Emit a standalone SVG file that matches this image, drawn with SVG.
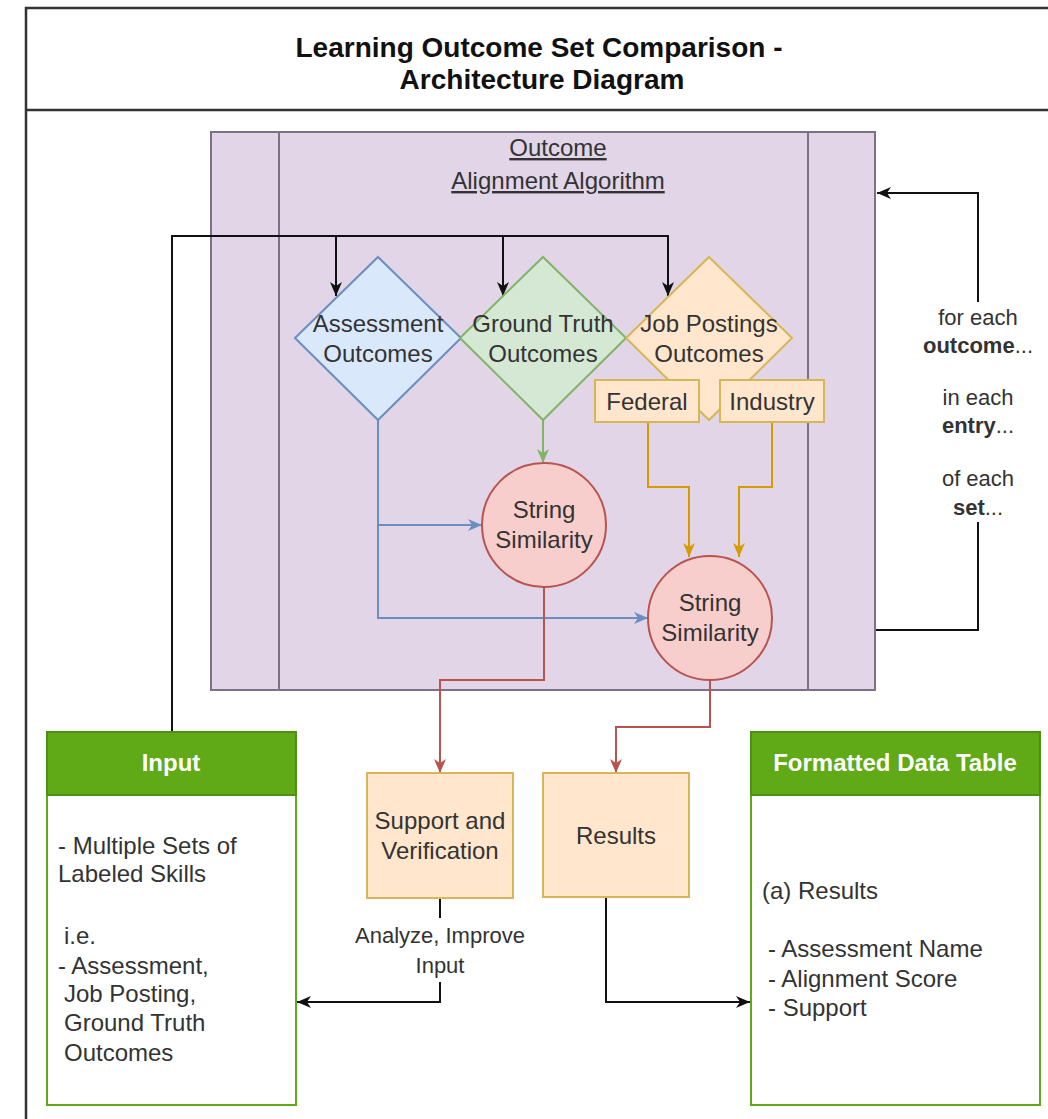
<svg xmlns="http://www.w3.org/2000/svg" width="1048" height="1119" viewBox="0 0 1048 1119">
<defs>
<style>
text{font-family:"Liberation Sans",Arial,sans-serif;fill:#333}
.t24{font-size:24px}
.t22{font-size:22px}
.mid{text-anchor:middle}
.hdr{font-size:24px;font-weight:bold;fill:#fff;text-anchor:middle}
.title{font-size:28px;font-weight:bold;fill:#111;text-anchor:middle}
.c{fill:none;stroke-width:2}
</style>
<marker id="aK" viewBox="0 0 14 12" markerWidth="14" markerHeight="12" refX="14" refY="6" orient="auto" markerUnits="userSpaceOnUse"><path d="M0,0 L14,6 L0,12 L4,6 Z" fill="#111"/></marker>
<marker id="aB" viewBox="0 0 14 12" markerWidth="14" markerHeight="12" refX="14" refY="6" orient="auto" markerUnits="userSpaceOnUse"><path d="M0,0 L14,6 L0,12 L4,6 Z" fill="#6c8ebf"/></marker>
<marker id="aG" viewBox="0 0 14 12" markerWidth="14" markerHeight="12" refX="14" refY="6" orient="auto" markerUnits="userSpaceOnUse"><path d="M0,0 L14,6 L0,12 L4,6 Z" fill="#82b366"/></marker>
<marker id="aO" viewBox="0 0 14 12" markerWidth="14" markerHeight="12" refX="14" refY="6" orient="auto" markerUnits="userSpaceOnUse"><path d="M0,0 L14,6 L0,12 L4,6 Z" fill="#d79b00"/></marker>
<marker id="aR" viewBox="0 0 14 12" markerWidth="14" markerHeight="12" refX="14" refY="6" orient="auto" markerUnits="userSpaceOnUse"><path d="M0,0 L14,6 L0,12 L4,6 Z" fill="#b85450"/></marker>
</defs>
<rect width="1048" height="1119" fill="#fff"/>
<g id="frame">
<rect x="26" y="8" width="1100" height="1200" fill="#fff" stroke="#333" stroke-width="2.5"/>
<line x1="26" y1="110" x2="1048" y2="110" stroke="#333" stroke-width="2.5"/>
<text class="title" x="539" y="57">Learning Outcome Set Comparison -</text>
<text class="title" x="542" y="89">Architecture Diagram</text>
</g>
<g id="algorithm">
<rect x="211" y="132" width="664" height="558" fill="#e1d5e7" stroke="#7d7189" stroke-width="2"/>
<line x1="279" y1="132" x2="279" y2="690" stroke="#7d7189" stroke-width="2"/>
<line x1="808" y1="132" x2="808" y2="690" stroke="#7d7189" stroke-width="2"/>
<text class="t24 mid" x="558" y="156" text-decoration="underline">Outcome</text>
<text class="t24 mid" x="558" y="189" text-decoration="underline">Alignment Algorithm</text>
</g>
<g id="connectors">
<path class="c" stroke="#111" d="M172,732 V236 H668 V296" marker-end="url(#aK)"/>
<path class="c" stroke="#111" d="M336,236 V296" marker-end="url(#aK)"/>
<path class="c" stroke="#111" d="M503,236 V296" marker-end="url(#aK)"/>
<path class="c" stroke="#82b366" d="M543,420 V463" marker-end="url(#aG)"/>
<path class="c" stroke="#6c8ebf" d="M378,420 V618 H648" marker-end="url(#aB)"/>
<path class="c" stroke="#6c8ebf" d="M378,525 H482" marker-end="url(#aB)"/>
<path class="c" stroke="#d79b00" d="M648,422 V487 H689 V557" marker-end="url(#aO)"/>
<path class="c" stroke="#d79b00" d="M772,422 V487 H739 V557" marker-end="url(#aO)"/>
<path class="c" stroke="#b85450" d="M544,587 V680 H440 V773" marker-end="url(#aR)"/>
<path class="c" stroke="#b85450" d="M710,680 V727 H616 V773" marker-end="url(#aR)"/>
<path class="c" stroke="#111" d="M606,897 V1002 H750" marker-end="url(#aK)"/>
<path class="c" stroke="#111" d="M440,898 V1002 H297" marker-end="url(#aK)"/>
<path class="c" stroke="#111" d="M876,630 H978 V193 H877" marker-end="url(#aK)"/>
<rect x="350" y="918" width="180" height="64" fill="#fff"/>
<text class="t22 mid" x="440" y="943">Analyze, Improve</text>
<text class="t22 mid" x="440" y="973">Input</text>
<rect x="915" y="302" width="126" height="220" fill="#fff"/>
<text class="t22 mid" x="978" y="325">for each</text>
<text class="t22 mid" x="978" y="353"><tspan font-weight="bold">outcome</tspan>...</text>
<text class="t22 mid" x="978" y="405">in each</text>
<text class="t22 mid" x="978" y="433"><tspan font-weight="bold">entry</tspan>...</text>
<text class="t22 mid" x="978" y="486">of each</text>
<text class="t22 mid" x="978" y="515"><tspan font-weight="bold">set</tspan>...</text>
</g>
<g id="assessment">
<polygon points="378,257 461,338 378,420 295,338" fill="#dae8fc" stroke="#6c8ebf" stroke-width="2"/>
<text class="t24 mid" x="378" y="332">Assessment</text>
<text class="t24 mid" x="378" y="362">Outcomes</text>
</g>
<g id="groundtruth">
<polygon points="543,257 626,338 543,420 460,338" fill="#d5e8d4" stroke="#82b366" stroke-width="2"/>
<text class="t24 mid" x="543" y="332">Ground Truth</text>
<text class="t24 mid" x="543" y="362">Outcomes</text>
</g>
<g id="jobpostings">
<polygon points="709,257 792,338 709,420 626,338" fill="#ffe6cc" stroke="#d6b656" stroke-width="2"/>
<text class="t24 mid" x="709" y="332">Job Postings</text>
<text class="t24 mid" x="709" y="362">Outcomes</text>
</g>
<g id="federal">
<rect x="595" y="380" width="104" height="42" fill="#ffe6cc" stroke="#d6b656" stroke-width="2"/>
<text class="t24 mid" x="647" y="410">Federal</text>
</g>
<g id="industry">
<rect x="720" y="380" width="104" height="42" fill="#ffe6cc" stroke="#d6b656" stroke-width="2"/>
<text class="t24 mid" x="772" y="410">Industry</text>
</g>
<g id="similarity1">
<circle cx="544" cy="525" r="62" fill="#f8cecc" stroke="#b85450" stroke-width="2"/>
<text class="t24 mid" x="544" y="518">String</text>
<text class="t24 mid" x="544" y="548">Similarity</text>
</g>
<g id="similarity2">
<circle cx="710" cy="618" r="62" fill="#f8cecc" stroke="#b85450" stroke-width="2"/>
<text class="t24 mid" x="710" y="611">String</text>
<text class="t24 mid" x="710" y="641">Similarity</text>
</g>
<g id="input">
<rect x="47" y="732" width="249" height="373" fill="#fff" stroke="#60a917" stroke-width="2"/>
<rect x="47" y="732" width="249" height="63" fill="#60a917" stroke="#4f8f12" stroke-width="2"/>
<text class="hdr" x="171" y="771">Input</text>
<text class="t24" x="58" y="854">- Multiple Sets of</text>
<text class="t24" x="58" y="882">Labeled Skills</text>
<text class="t24" x="64" y="944">i.e.</text>
<text class="t24" x="58" y="974">- Assessment,</text>
<text class="t24" x="64" y="1002">Job Posting,</text>
<text class="t24" x="64" y="1031">Ground Truth</text>
<text class="t24" x="64" y="1061">Outcomes</text>
</g>
<g id="support">
<rect x="367" y="773" width="146" height="125" fill="#ffe6cc" stroke="#d6b656" stroke-width="2"/>
<text class="t24 mid" x="440" y="829">Support and</text>
<text class="t24 mid" x="440" y="859">Verification</text>
</g>
<g id="results">
<rect x="543" y="773" width="146" height="124" fill="#ffe6cc" stroke="#d6b656" stroke-width="2"/>
<text class="t24 mid" x="616" y="844">Results</text>
</g>
<g id="datatable">
<rect x="751" y="732" width="289" height="373" fill="#fff" stroke="#60a917" stroke-width="2"/>
<rect x="751" y="732" width="289" height="63" fill="#60a917" stroke="#4f8f12" stroke-width="2"/>
<text class="hdr" x="895" y="771">Formatted Data Table</text>
<text class="t24" x="762" y="899">(a) Results</text>
<text class="t24" x="768" y="957">- Assessment Name</text>
<text class="t24" x="768" y="987">- Alignment Score</text>
<text class="t24" x="768" y="1016">- Support</text>
</g>
</svg>
